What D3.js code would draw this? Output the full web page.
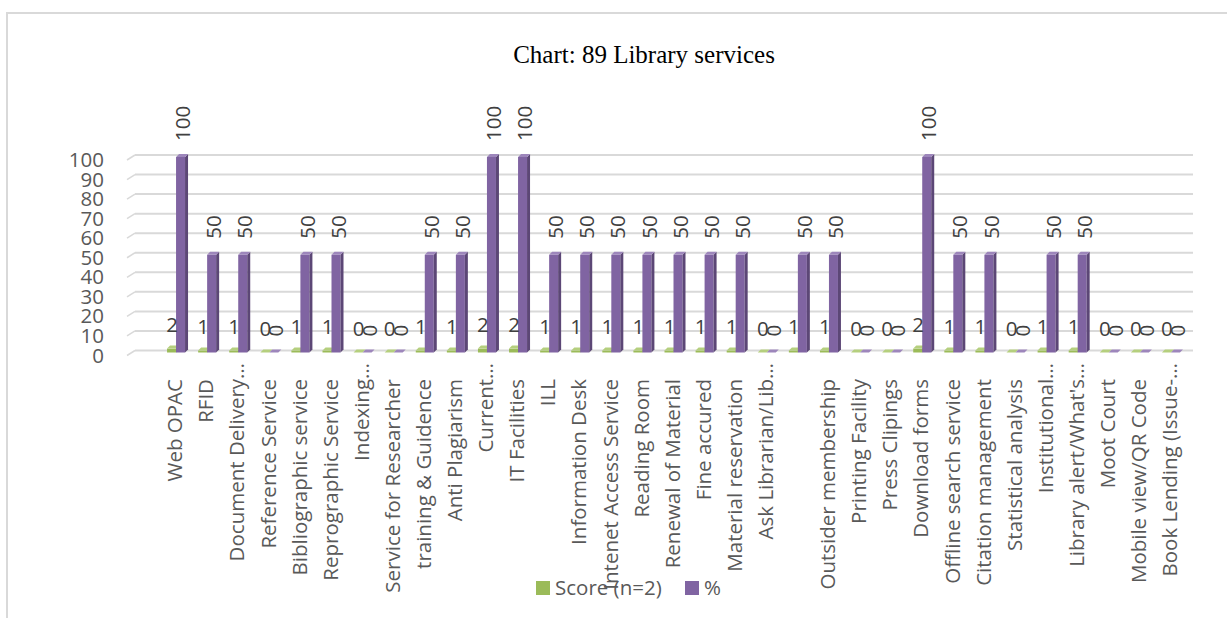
<!DOCTYPE html>
<html>
<head>
<meta charset="utf-8">
<script src="https://cdn.jsdelivr.net/npm/d3@7"></script>
<style>
  html, body { margin: 0; padding: 0; background: #fff; }
  svg { display: block; }
</style>
</head>
<body>
<svg id="chart" width="1227" height="618"></svg>
<script>
const title = "Chart: 89 Library services";
const categories = [
  "Web OPAC", "RFID", "Document Delivery…", "Reference Service", "Bibliographic service",
  "Reprographic Service", "Indexing…", "Service for Researcher", "training & Guidence",
  "Anti Plagiarism", "Current…", "IT Facilities", "ILL", "Information Desk",
  "Intenet Access Service", "Reading Room", "Renewal of Material", "Fine accured",
  "Material reservation", "Ask Librarian/Lib…", "", "Outsider membership",
  "Printing Facility", "Press Clipings", "Download forms", "Offline search service",
  "Citation management", "Statistical analysis", "Institutional…", "Library alert/What's…",
  "Moot Court", "Mobile view/QR Code", "Book Lending (Issue-…"
];
const scoreValues = [2,1,1,0,1,1,0,0,1,1,2,2,1,1,1,1,1,1,1,0,1,1,0,0,2,1,1,0,1,1,0,0,0];
const pctValues   = [100,50,50,0,50,50,0,0,50,50,100,100,50,50,50,50,50,50,50,0,50,50,0,0,100,50,50,0,50,50,0,0,0];
const yTicks = [0,10,20,30,40,50,60,70,80,90,100];
const seriesNames = ["Score (n=2)", "%"];

const colors = {
  score: { front: "#9bbb59", side: "#76923c", top: "#b5cf7e" },
  pct:   { front: "#8064a2", side: "#5c4776", top: "#9d86bb" }
};

const svg = d3.select("#chart");
const FONT = "'Open Sans', 'DejaVu Sans', sans-serif";

// frame
svg.append("rect").attr("x", 7).attr("y", 13).attr("width", 1240).attr("height", 640)
  .attr("fill", "none").attr("stroke", "#d9d9d9").attr("stroke-width", 2);

// title
svg.append("text").attr("x", 644).attr("y", 63).attr("text-anchor", "middle")
  .attr("font-family", "'Liberation Serif', 'Times New Roman', serif")
  .attr("font-size", 25).attr("fill", "#000").text(title);

const x = d3.scaleBand().domain(d3.range(categories.length)).range([159.5, 1185.5]).padding(0);
const y = d3.scaleLinear().domain([0, 100]).range([352.5, 157]);
const cx = i => x(i) + x.bandwidth() / 2;

// gridlines (3D: back wall line + left diagonal)
const grid = svg.append("g");
yTicks.forEach(v => {
  grid.append("line").attr("x1", 135).attr("x2", 1193)
    .attr("y1", y(v) - 2).attr("y2", y(v) - 2)
    .attr("stroke", "#d9d9d9").attr("stroke-width", 2);
  grid.append("line").attr("x1", 127).attr("x2", 135)
    .attr("y1", y(v) + 3).attr("y2", y(v) - 2)
    .attr("stroke", "#d9d9d9").attr("stroke-width", 1.5);
});

// y axis labels
const yAxis = svg.append("g").attr("transform", "translate(104,3)")
  .call(d3.axisLeft(y).tickValues(yTicks).tickSize(0).tickPadding(0));
yAxis.select(".domain").remove();
yAxis.selectAll("text").attr("font-family", FONT).attr("font-size", 20.5).attr("fill", "#595959");

// bars
const D = 3; // depth offset
function bar3d(g, x0, w, v, col) {
  const yt = y(v), yb = y(0);
  g.append("rect").attr("x", x0).attr("y", yt).attr("width", w).attr("height", Math.max(0, yb - yt))
    .attr("fill", col.front);
  g.append("polygon")
    .attr("points", [[x0 + w, yt], [x0 + w + D, yt - D], [x0 + w + D, yb - D], [x0 + w, yb]].join(" "))
    .attr("fill", col.side);
  g.append("polygon")
    .attr("points", [[x0, yt], [x0 + D, yt - D], [x0 + w + D, yt - D], [x0 + w, yt]].join(" "))
    .attr("fill", col.top);
}
const bars = svg.append("g");
categories.forEach((c, i) => {
  const c0 = cx(i);
  bar3d(bars, c0 - 8, 9, scoreValues[i], colors.score);
  bar3d(bars, c0 + 1, 9, pctValues[i], colors.pct);
});

// data labels
const labels = svg.append("g").attr("font-family", FONT).attr("font-size", 20.5).attr("fill", "#404040");
categories.forEach((c, i) => {
  const c0 = cx(i);
  labels.append("text").attr("x", c0 - 3).attr("y", y(scoreValues[i]) - 17)
    .attr("text-anchor", "middle").text(scoreValues[i]);
  labels.append("text").attr("transform", "rotate(-90)")
    .attr("x", -(y(pctValues[i]) - 16)).attr("y", c0 + 8).attr("dy", "0.35em")
    .attr("text-anchor", "start").text(pctValues[i]);
});

// category axis
const xAxis = svg.append("g").attr("transform", "translate(0,0)")
  .call(d3.axisBottom(x).tickSize(0).tickFormat(i => categories[i]));
xAxis.select(".domain").remove();
xAxis.selectAll("text")
  .attr("font-family", FONT).attr("font-size", 20.5).attr("fill", "#595959")
  .attr("transform", "rotate(-90)")
  .attr("x", i => -(categories[i].endsWith("…") ? 363 : 379))
  .attr("y", 0).attr("dy", "0.35em")
  .attr("text-anchor", "end");

// legend
const legend = svg.append("g").attr("font-family", FONT).attr("font-size", 20.5).attr("fill", "#595959");
[[536, colors.score.front, seriesNames[0]], [685, colors.pct.front, seriesNames[1]]].forEach(([lx, col, name]) => {
  legend.append("rect").attr("x", lx).attr("y", 581).attr("width", 14).attr("height", 14).attr("fill", col);
  legend.append("text").attr("x", lx + 19).attr("y", 595).text(name);
});
</script>
</body>
</html>
